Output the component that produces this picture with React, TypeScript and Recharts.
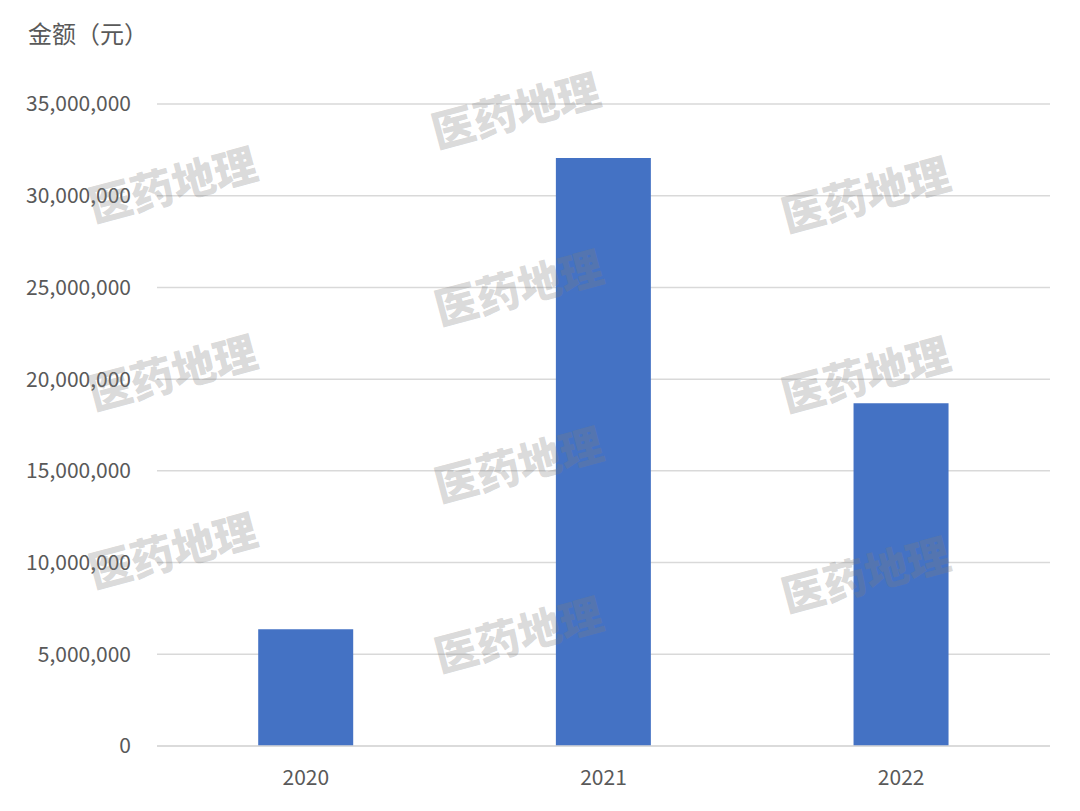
import { BarChart, Bar, XAxis, YAxis, CartesianGrid } from "recharts";

// 年份和金额（元）
const years = ["2020", "2021", "2022"];
const amounts = [6370000, 32060000, 18690000];
const yTicks = [0, 5000000, 10000000, 15000000, 20000000, 25000000, 30000000, 35000000];

// 水印位置
const watermarkX = [515, 172, 865, 518, 172, 865, 518, 172, 865, 518];
const watermarkY = [108, 182, 192, 285, 370, 372, 462, 548, 572, 632];

const data = years.map((year, i) => ({ year, amount: amounts[i] }));

const font = '"Noto Sans CJK SC", "Noto Sans", sans-serif';

const formatNum = (v: number) => v.toLocaleString("en-US");

const App = () => {
  return (
    <div style={{ position: "absolute", left: 0, top: 0, width: 1080, height: 811, background: "#fff", fontFamily: font }}>
      <div style={{ position: "absolute", left: 28, top: 16, fontSize: 24, color: "#595959", lineHeight: "34px" }}>
        金额（元）
      </div>
      <BarChart
        width={1080}
        height={811}
        data={data}
        margin={{ top: 104, right: 30, bottom: 35, left: 0 }}
        barCategoryGap="34%"
      >
        <CartesianGrid vertical={false} stroke="#d9d9d9" strokeWidth={1.5} />
        <XAxis
          dataKey="year"
          axisLine={{ stroke: "#d9d9d9", strokeWidth: 1.5 }}
          tickLine={false}
          tick={{ fill: "#595959", fontSize: 21, fontFamily: font }}
          tickMargin={18}
        />
        <YAxis
          domain={[0, 35000000]}
          ticks={yTicks}
          width={157}
          axisLine={false}
          tickLine={false}
          tick={{ fill: "#595959", fontSize: 21, fontFamily: font }}
          tickFormatter={formatNum}
          tickMargin={20}
        />
        <Bar dataKey="amount" fill="#4472c4" isAnimationActive={false} />
      </BarChart>
      <svg width={1080} height={811} style={{ position: "absolute", left: 0, top: 0, pointerEvents: "none" }}>
        {watermarkX.map((x, i) => (
          <text
            key={i}
            x={x}
            y={watermarkY[i]}
            textAnchor="middle"
            dominantBaseline="central"
            transform={`rotate(-15 ${x} ${watermarkY[i]})`}
            fontSize={43}
            fontWeight={900}
            fontFamily={font}
            fill="#7f7f7f"
            fillOpacity={0.3}
          >
            医药地理
          </text>
        ))}
      </svg>
    </div>
  );
};

export default App;
